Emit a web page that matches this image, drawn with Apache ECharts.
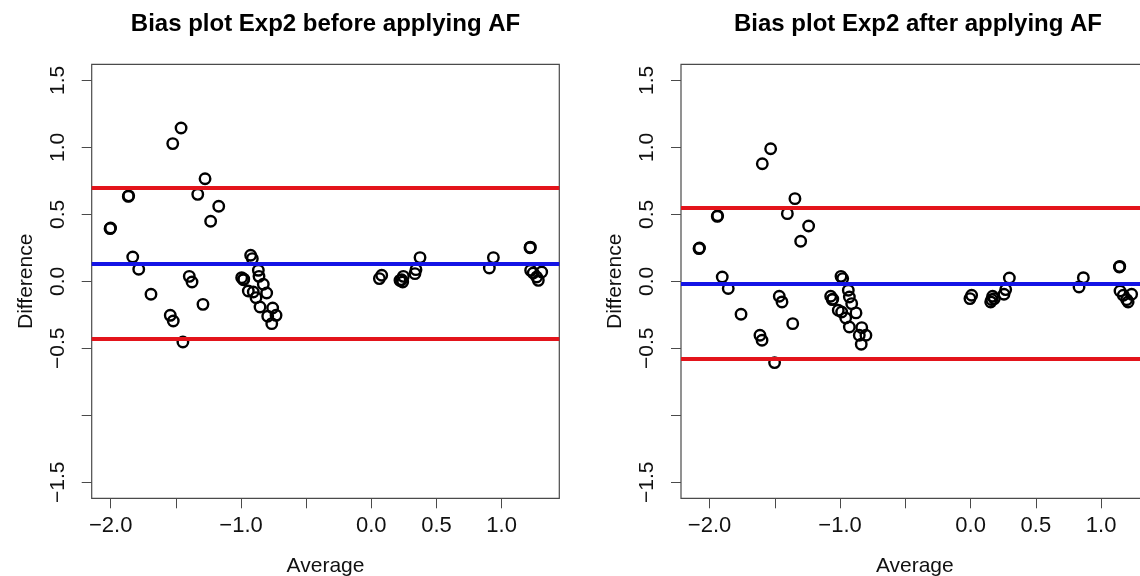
<!DOCTYPE html>
<html><head><meta charset="utf-8">
<script src="https://cdn.jsdelivr.net/npm/echarts@6/dist/echarts.min.js"></script>
<style>html,body{margin:0;padding:0;background:#fff}#chart{width:1140px;height:576px}</style>
</head><body><div id="chart"></div>
<script>
const panelTitles = ['Bias plot Exp2 before applying AF', 'Bias plot Exp2 after applying AF'];
const xAxisName = 'Average';
const yAxisName = 'Difference';
const xTickValues = [-2.0, -1.5, -1.0, -0.5, 0.0, 0.5, 1.0];
const xLabelValues = [-2.0, -1.0, 0.0, 0.5, 1.0];
const yTickValues = [-1.5, -1.0, -0.5, 0.0, 0.5, 1.0, 1.5];
const yLabelValues = [-1.5, -0.5, 0.0, 0.5, 1.0, 1.5];

const beforeAverage = [-2.005,-2.001,-1.865,-1.862,-1.831,-1.785,-1.691,-1.524,-1.460,-1.543,-1.520,-1.446,-1.397,-1.376,-1.332,-1.276,-1.292,-1.233,-1.171,
  -0.995,-0.982,-0.979,-0.926,-0.913,-0.944,-0.906,-0.867,-0.862,-0.885,-0.829,-0.803,-0.854,-0.757,-0.731,-0.795,-0.764,
  0.062,0.080,0.233,0.246,0.241,0.220,0.335,0.343,0.374,0.906,0.937,1.218,1.221,1.223,1.243,1.269,1.308,1.282];
const beforeDifference = [0.393,0.398,0.634,0.638,0.181,0.090,-0.097,1.028,1.144,-0.254,-0.296,-0.453,0.037,-0.005,0.649,0.766,-0.172,0.448,0.560,
  0.027,0.012,0.016,0.194,0.169,-0.072,-0.080,0.082,0.037,-0.122,-0.022,-0.087,-0.192,-0.199,-0.254,-0.261,-0.316,
  0.020,0.045,0.012,0.037,-0.005,0.007,0.057,0.087,0.177,0.099,0.177,0.251,0.255,0.082,0.062,0.032,0.069,0.007];
const afterAverage = [-2.081,-2.077,-1.941,-1.938,-1.903,-1.857,-1.759,-1.596,-1.532,-1.614,-1.598,-1.502,-1.466,-1.445,-1.404,-1.346,-1.363,-1.302,-1.241,
  -1.072,-1.060,-1.056,-0.993,-0.980,-1.014,-0.988,-0.937,-0.929,-0.957,-0.911,-0.878,-0.929,-0.834,-0.802,-0.853,-0.838,
  -0.005,0.008,0.162,0.169,0.154,0.182,0.256,0.269,0.297,0.831,0.864,1.140,1.143,1.145,1.170,1.196,1.234,1.207];
const afterDifference = [0.244,0.249,0.485,0.489,0.032,-0.054,-0.246,0.878,0.990,-0.403,-0.440,-0.607,-0.112,-0.154,0.505,0.617,-0.316,0.299,0.413,
  -0.112,-0.137,-0.133,0.037,0.020,-0.216,-0.229,-0.067,-0.117,-0.274,-0.167,-0.236,-0.341,-0.346,-0.403,-0.403,-0.470,
  -0.129,-0.104,-0.137,-0.112,-0.154,-0.129,-0.097,-0.062,0.025,-0.042,0.027,0.107,0.111,-0.072,-0.104,-0.137,-0.097,-0.154];
// [upper limit, mean bias, lower limit]
const beforeLimits = [0.696, 0.133, -0.428];
const afterLimits = [0.547, -0.017, -0.582];
const xRanges = [[-2.146, 1.443], [-2.219, 1.364]];
const yRange = [-1.62, 1.62];

const FONT = 'Liberation Sans, Arial, Helvetica, sans-serif';
const RED = '#e3141b', BLUE = '#1414e6', FRAME = '#4a4a4a';
const fmt = v => (v < 0 ? '\u2212' : '') + Math.abs(v).toFixed(1);

const grids = [
  {left: 91.7, top: 64.3, width: 467.6, height: 434},
  {left: 681, top: 64.3, width: 467.6, height: 434}
];
const titleCenters = [325.5, 918];

function xAxisFor(i) {
  return {
    type: 'value', gridIndex: i, min: xRanges[i][0], max: xRanges[i][1],
    splitLine: {show: false}, axisLine: {show: false, onZero: false},
    axisTick: {show: true, inside: false, length: 10, lineStyle: {color: FRAME, width: 1}, customValues: xTickValues},
    axisLabel: {customValues: xLabelValues, formatter: fmt, margin: 17, color: '#111', fontSize: 22, fontFamily: FONT},
    name: xAxisName, nameLocation: 'middle', nameGap: 57,
    nameTextStyle: {color: '#111', fontSize: 21, fontFamily: FONT}
  };
}
function yAxisFor(i) {
  return {
    type: 'value', gridIndex: i, min: yRange[0], max: yRange[1],
    splitLine: {show: false}, axisLine: {show: false, onZero: false},
    axisTick: {show: true, inside: false, length: 10, lineStyle: {color: FRAME, width: 1}, customValues: yTickValues},
    axisLabel: {customValues: yLabelValues, formatter: fmt, rotate: 90, margin: 23, color: '#111', fontSize: 21, fontFamily: FONT},
    name: yAxisName, nameLocation: 'middle', nameGap: 55, nameRotate: 90,
    nameTextStyle: {color: '#111', fontSize: 21, fontFamily: FONT}
  };
}
function pointsSeries(i, xs, ys) {
  return {
    type: 'scatter', xAxisIndex: i, yAxisIndex: i, z: 2,
    data: xs.map((x, k) => [x, ys[k]]),
    symbol: 'circle', symbolSize: 10.5,
    itemStyle: {color: 'rgba(0,0,0,0)', borderColor: '#000', borderWidth: 2.4, opacity: 1},
    silent: true
  };
}
function limitsSeries(i, lim) {
  return {
    type: 'scatter', xAxisIndex: i, yAxisIndex: i, z: 5, data: [],
    markLine: {
      silent: true, symbol: ['none', 'none'], label: {show: false}, animation: false,
      data: [
        {yAxis: lim[0], lineStyle: {color: RED, width: 4, type: 'solid', opacity: 1}},
        {yAxis: lim[1], lineStyle: {color: BLUE, width: 4, type: 'solid', opacity: 1}},
        {yAxis: lim[2], lineStyle: {color: RED, width: 4, type: 'solid', opacity: 1}}
      ]
    }
  };
}

const chart = echarts.init(document.getElementById('chart'), null, {renderer: 'canvas'});
chart.setOption({
  animation: false,
  backgroundColor: '#fff',
  title: panelTitles.map((t, i) => ({
    text: t, left: titleCenters[i], top: 12, textAlign: 'center', padding: 0,
    textStyle: {fontSize: 24, fontWeight: 'bold', color: '#000', fontFamily: FONT}
  })),
  grid: grids.map(g => Object.assign({show: true, borderColor: FRAME, borderWidth: 1.2, backgroundColor: 'transparent', containLabel: false, outerBoundsMode: 'none'}, g)),
  xAxis: [xAxisFor(0), xAxisFor(1)],
  yAxis: [yAxisFor(0), yAxisFor(1)],
  series: [
    pointsSeries(0, beforeAverage, beforeDifference),
    pointsSeries(1, afterAverage, afterDifference),
    limitsSeries(0, beforeLimits),
    limitsSeries(1, afterLimits)
  ]
});
</script></body></html>
